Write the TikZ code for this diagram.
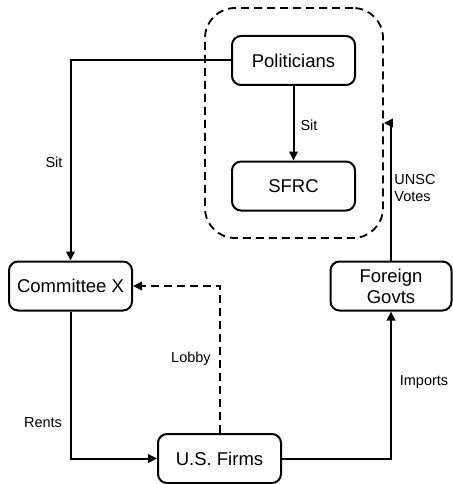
\documentclass[tikz,border=0pt]{standalone}
\usepackage{fontspec}
\setmainfont{Liberation Sans}
\usetikzlibrary{arrows.meta}
\begin{document}
\begin{tikzpicture}[x=1pt,y=-1pt,
  box/.style={draw,line width=2pt,rounded corners=9pt,minimum width=123pt,minimum height=49pt,
    font=\fontsize{18.5}{21}\selectfont,align=center,inner sep=0pt},
  lbl/.style={font=\fontsize{14.5}{17}\selectfont,inner sep=0pt},
  arr/.style={line width=2pt,-{Triangle[length=9pt,width=8.5pt]}},
  dsh/.style={dash pattern=on 8pt off 5pt}]
\useasboundingbox (0,0) rectangle (452,484);
\node[draw,dsh,line width=1.8pt,rounded corners=30pt,minimum width=178pt,minimum height=230pt,inner sep=0pt] (grp) at (294,123) {};
\node[box] (pol) at (293.5,60.5) {Politicians};
\node[box] (sfrc) at (293.5,186) {SFRC};
\node[box] (com) at (70.5,286) {Committee X};
\node[box,minimum width=121pt] (for) at (391,286) {Foreign\\Govts};
\node[box] (firm) at (219.5,458.5) {U.S. Firms};
\draw[arr] (pol.west) -| (com.north);
\draw[arr] (pol) -- (sfrc);
\draw[arr] (com.south) |- (firm.west);
\draw[arr,dsh] (firm.north) |- (com.east);
\draw[arr] (firm.east) -| (for.south);
\draw[arr] (for.north) |- (grp.east);
\node[lbl] (l1) at (54,162) {Sit};
\node[lbl] (l2) at (309,125) {Sit};
\node[lbl] (l3) at (43,423) {Rents};
\node[lbl] (l4) at (191,359) {Lobby};
\node[lbl] (l5) at (424,382) {Imports};
\node[lbl,align=left] (l6) at (415,188) {UNSC\\Votes};
\end{tikzpicture}
\end{document}
